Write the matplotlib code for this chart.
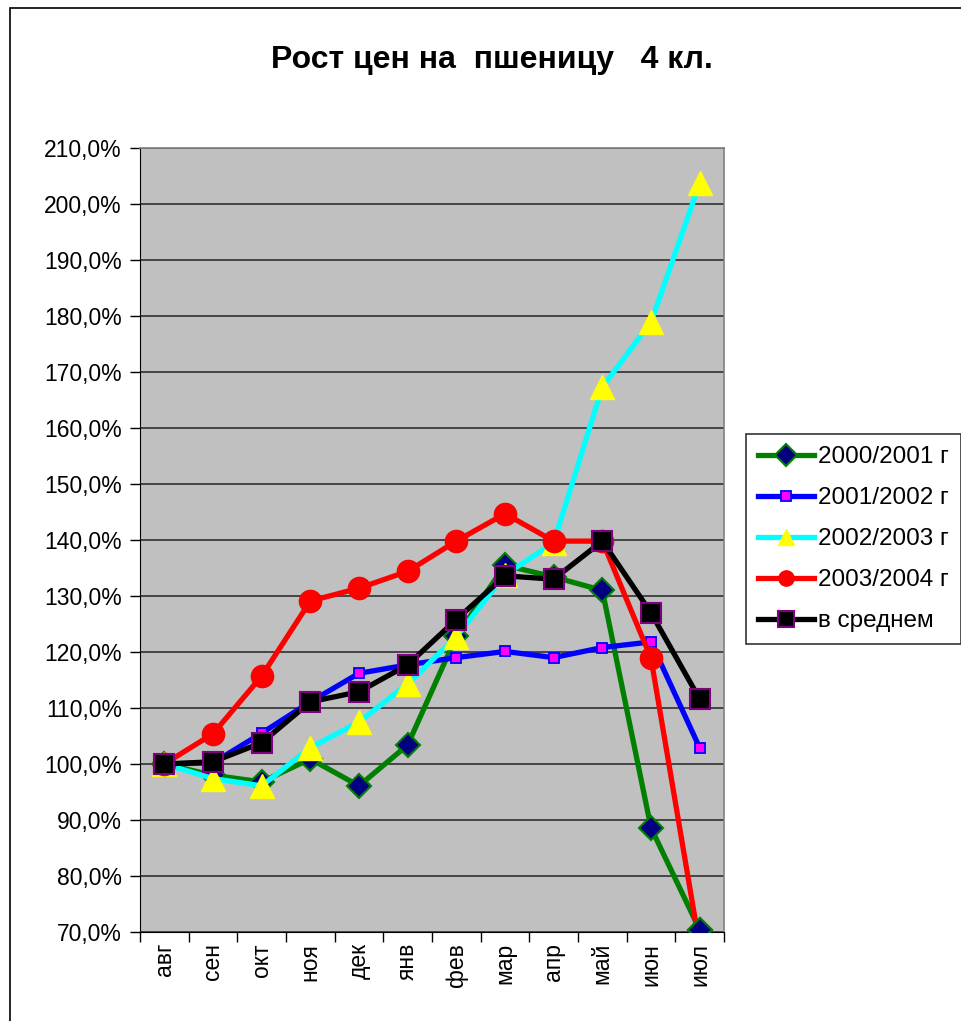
import matplotlib
matplotlib.use("Agg")
import matplotlib.pyplot as plt
from matplotlib.patches import Rectangle
from matplotlib.ticker import FuncFormatter, FixedLocator

plt.rcParams['font.family'] = ['Liberation Sans', 'DejaVu Sans']

months = ["авг", "сен", "окт", "ноя", "дек", "янв", "фев", "мар", "апр", "май", "июн", "июл"]
s2000 = [100, 98.0, 96.8, 100.9, 96.1, 103.4, 122.8, 135.5, 133.4, 131.0, 88.6, 70.4]
s2001 = [100, 100.2, 105.5, 111.1, 116.2, 117.7, 119.0, 120.1, 119.0, 120.8, 121.8, 102.9]
s2002 = [100, 97.4, 96.1, 102.9, 107.5, 114.3, 122.7, 133.8, 139.5, 167.3, 178.9, 203.7]
s2003 = [100, 105.4, 115.7, 129.1, 131.4, 134.4, 139.8, 144.7, 139.8, 139.8, 118.9, 67.5]
avg = [100, 100.4, 103.8, 111.1, 112.9, 117.7, 125.8, 133.6, 133.0, 139.8, 127.0, 111.6]
labels = ["2000/2001 г", "2001/2002 г", "2002/2003 г", "2003/2004 г", "в среднем"]
title = "Рост цен на  пшеницу   4 кл."

W, H = 961, 1021
fig = plt.figure(figsize=(W / 100, H / 100), dpi=100)
ax = fig.add_axes([140 / W, 1 - 932 / H, 584 / W, 784 / H])
ax.set_facecolor("#C0C0C0")

x = list(range(len(months)))
green_kw = dict(marker="D", ms=12, mfc="#000080", mec="#008000", mew=1.5)
ax.plot(x, s2000, color="#008000", lw=3.8, label=labels[0], zorder=3, **green_kw)
ax.plot(x, s2001, color="#0000FF", lw=3.8, marker="s", ms=7, mfc="#FF00FF", mec="#0000FF", mew=1.3, label=labels[1], zorder=4)
ax.plot(x, s2002, color="#00FFFF", lw=3.8, marker="^", ms=17, mfc="#FFFF00", mec="#FFFF00", mew=1, label=labels[2], zorder=5)
ax.plot(x, s2003, color="#FF0000", lw=3.8, marker="o", ms=16, mfc="#FF0000", mec="#FF0000", label=labels[3], zorder=6)
ax.plot(x, avg, color="#000000", lw=3.8, marker="s", ms=15, mfc="#000000", mec="#800080", mew=1.5, label=labels[4], zorder=7)
# last green marker drawn above the red line, as in the original
ax.plot(x[-1:], s2000[-1:], ls="none", zorder=6.5, **green_kw)

ax.set_xlim(-0.5, len(months) - 0.5)
ax.set_ylim(70, 210)
ax.set_yticks(range(70, 211, 10))
ax.yaxis.set_major_formatter(FuncFormatter(lambda v, p: f"{v:.1f}".replace(".", ",") + "%"))
ax.yaxis.grid(True, color="#303030", lw=1.2)
ax.set_axisbelow(True)
ax.set_xticks(x)
ax.set_xticklabels(months, rotation=90, fontsize=16.5)
ax.xaxis.set_minor_locator(FixedLocator([i + 0.5 for i in range(-1, len(months))]))
ax.tick_params(axis="x", which="major", length=0, pad=8)
ax.tick_params(axis="x", which="minor", length=7, width=1, color="#000000")
ax.tick_params(axis="y", length=7, width=1, labelsize=16.5, pad=6)
for side in ["top", "right"]:
    ax.spines[side].set_color("#808080")
    ax.spines[side].set_linewidth(1.2)
ax.spines["left"].set_color("#000000")
ax.spines["bottom"].set_color("#000000")

fig.text(492 / W, 1 - 60 / H, title, ha="center", va="center", fontsize=23, fontweight="bold")

leg = fig.legend(loc="upper left", bbox_to_anchor=(746 / W, 1 - 434 / H), fontsize=17.5,
                 frameon=True, fancybox=False, edgecolor="#000000", handlelength=2.3,
                 labelspacing=0.78, borderpad=0.5, handletextpad=0.15, borderaxespad=0)
leg.get_frame().set_linewidth(1.2)
for h in leg.legend_handles:
    h.set_markersize(min(h.get_markersize(), 11))

fig.patches.append(Rectangle((10 / W, -0.01), 1.0, 1 - 8 / H + 0.01, transform=fig.transFigure,
                             fill=False, edgecolor="#000000", lw=1.2, clip_on=False))

fig.savefig("out.png", dpi=100)
